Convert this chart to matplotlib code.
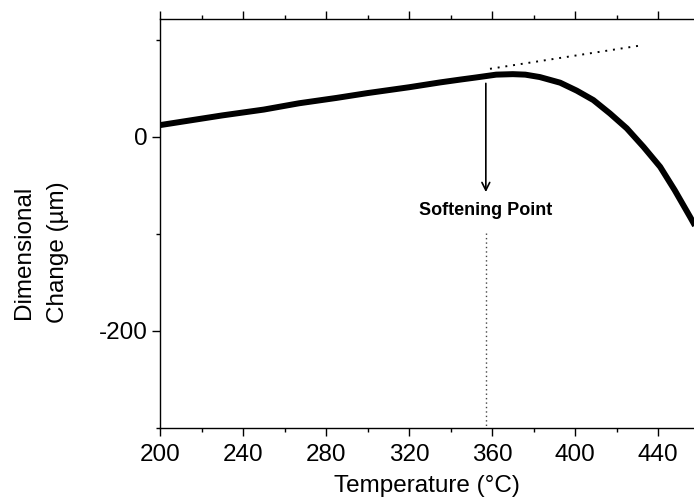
import matplotlib

matplotlib.use("Agg")

import matplotlib.pyplot as plt
from matplotlib.ticker import FixedLocator, MultipleLocator

plt.rcParams["font.family"] = ["Liberation Sans", "DejaVu Sans"]
plt.rcParams["axes.unicode_minus"] = False

# Dilatometer trace (temperature in °C, change in µm)
temperature = [200, 215, 230, 250, 267, 285, 300, 320, 335, 345, 352, 357,
               362, 370, 376, 383, 392.8, 400.8, 408.8, 416.8, 424.9, 433,
               441, 448, 455.4, 460]
dim_change = [12, 17, 22, 28, 34.5, 40, 45, 51, 56, 59, 61, 62.5,
              64, 64.5, 64, 61.5, 55.7, 47.5, 37.8, 24, 8.7, -10.5,
              -31, -55, -82.5, -100]

# extrapolated linear part (dotted) and softening point marker
tangent_t = [359, 433]
tangent_y = [70, 94.5]
softening_t = 357
arrow_from, arrow_to = 55, -57
label_y = -76
guide_top = -99

xlim = (200, 457.3)
ylim = (-300, 121)

fig = plt.figure(figsize=(6.94, 4.97), dpi=100)
ax = fig.add_axes([160 / 694, 69 / 497, 534 / 694, 408.7 / 497])

ax.plot(temperature, dim_change, color="black", lw=4.3, solid_capstyle="butt")
ax.plot(tangent_t, tangent_y, color="black", lw=1.4,
        linestyle=(0, (1, 3)), dash_capstyle="butt")
ax.plot([softening_t, softening_t], [guide_top, ylim[0]], color="#444444",
        lw=1.0, linestyle=(0, (1, 2.2)), dash_capstyle="butt")

ax.annotate("", xy=(softening_t, arrow_to), xytext=(softening_t, arrow_from),
            arrowprops=dict(arrowstyle="->", color="black", lw=1.2,
                            mutation_scale=14, shrinkA=0, shrinkB=0))
ax.text(softening_t, label_y, "Softening Point", ha="center", va="center",
        fontsize=13, fontweight="bold")

ax.set_xlim(*xlim)
ax.set_ylim(*ylim)

ax.xaxis.set_major_locator(MultipleLocator(40))
ax.xaxis.set_minor_locator(MultipleLocator(20))
ax.yaxis.set_major_locator(FixedLocator([0, -200]))
ax.yaxis.set_minor_locator(FixedLocator([100, -100, -300]))

ax.spines["right"].set_visible(False)
for s in ("left", "bottom", "top"):
    ax.spines[s].set_linewidth(1.0)

ax.tick_params(axis="x", which="both", direction="out", top=True,
               labeltop=False, width=1.0)
ax.tick_params(axis="y", which="both", direction="out", right=False,
               width=1.0)
ax.tick_params(which="major", length=5.8, labelsize=17.5)
ax.tick_params(axis="x", which="major", pad=6)
ax.tick_params(axis="y", which="major", pad=3)
ax.tick_params(which="minor", length=2.9)

ax.set_xlabel("Temperature (°C)", fontsize=17.5, labelpad=6)
fig.text(41 / 694, 1 - 252 / 497, "Dimensional\nChange (µm)", rotation=90,
         ha="center", va="center", fontsize=17.5, linespacing=1.7,
         multialignment="center")

fig.savefig("out.png", dpi=100)
